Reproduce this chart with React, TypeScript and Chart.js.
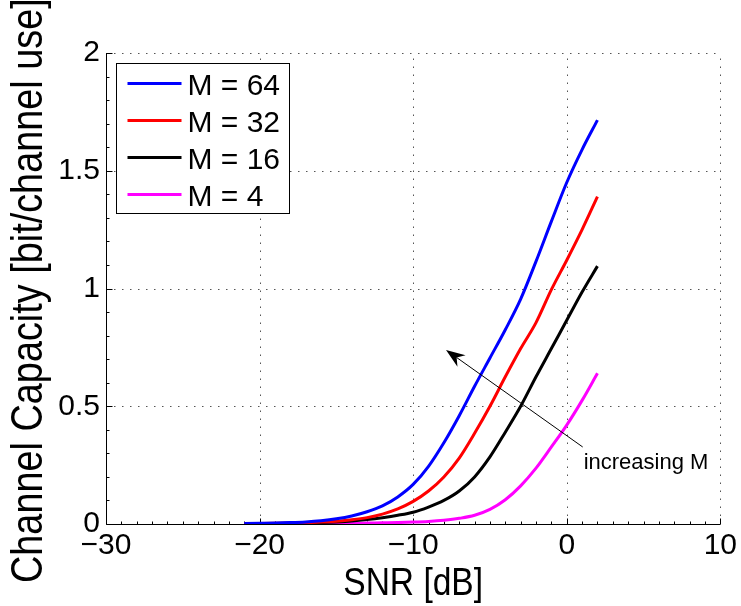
import React, { useEffect, useRef } from "react";
import { Chart, registerables } from "chart.js";

Chart.register(...registerables);

// ---- data ----
const snrDb = [-21, -20, -19, -18, -17, -16, -15, -14, -13, -12, -11, -10, -9, -8, -7, -6, -5, -4, -3, -2, -1, 0, 1, 2];
const capM64 = [0.002, 0.003, 0.004, 0.006, 0.009, 0.014, 0.022, 0.034, 0.052, 0.077, 0.115, 0.168, 0.245, 0.345, 0.46, 0.585, 0.705, 0.825, 0.955, 1.115, 1.285, 1.45, 1.59, 1.715];
const capM32 = [0.001, 0.002, 0.003, 0.004, 0.006, 0.008, 0.012, 0.018, 0.027, 0.042, 0.064, 0.096, 0.14, 0.2, 0.28, 0.385, 0.5, 0.625, 0.745, 0.855, 0.995, 1.12, 1.25, 1.39];
const capM16 = [0.001, 0.001, 0.002, 0.003, 0.004, 0.006, 0.009, 0.013, 0.019, 0.027, 0.037, 0.05, 0.072, 0.1, 0.14, 0.2, 0.285, 0.39, 0.5, 0.625, 0.745, 0.865, 0.985, 1.095];
const capM4 = [0, 0.001, 0.001, 0.001, 0.002, 0.002, 0.003, 0.003, 0.004, 0.005, 0.006, 0.008, 0.011, 0.016, 0.024, 0.037, 0.062, 0.103, 0.162, 0.237, 0.327, 0.42, 0.525, 0.64];
const seriesLabels = ["M = 64", "M = 32", "M = 16", "M = 4"];
const seriesColors = ["#0000ff", "#ff0000", "#000000", "#ff00ff"];
const xMin = -30;
const xMax = 10;
const xStep = 10;
const yMin = 0;
const yMax = 2;
const yStep = 0.5;
const xMinorStep = 1;
const yMinorStep = 0.1;
const xTitle = "SNR [dB]";
const yTitle = "Channel Capacity [bit/channel use]";
const annotationText = "increasing M";
const arrowTail = { x: 1.04, y: 0.327 };
const arrowHead = { x: -7.86, y: 0.739 };
const annotationAnchor = { x: 1.1, y: 0.234 };

const FONT = '"Liberation Sans", Arial, Helvetica, sans-serif';

function drawCondensed(ctx: CanvasRenderingContext2D, text: string, size: number, sx: number, align: CanvasTextAlign) {
  ctx.save();
  ctx.scale(sx, 1);
  ctx.font = `${size}px ${FONT}`;
  ctx.textAlign = align;
  ctx.textBaseline = "alphabetic";
  ctx.fillStyle = "#000";
  ctx.fillText(text, 0, 0);
  ctx.restore();
}

const matlabAxesPlugin = {
  id: "matlabAxes",
  beforeDatasetsDraw(chart: any) {
    const { ctx, chartArea: a, scales } = chart;
    const xs = scales.x;
    const ys = scales.y;
    ctx.save();
    // dotted grid
    ctx.strokeStyle = "#555";
    ctx.lineWidth = 1;
    ctx.setLineDash([1.5, 6.5]);
    for (let v = xMin + xStep; v <= xMax + 1e-9; v += xStep) {
      const px = Math.round(xs.getPixelForValue(v)) + 0.5;
      ctx.beginPath();
      ctx.moveTo(px, a.bottom);
      ctx.lineTo(px, a.top);
      ctx.stroke();
    }
    for (let v = yMin + yStep; v <= yMax + 1e-9; v += yStep) {
      const py = Math.round(ys.getPixelForValue(v)) + 0.5;
      ctx.beginPath();
      ctx.moveTo(a.left, py);
      ctx.lineTo(a.right, py);
      ctx.stroke();
    }
    ctx.setLineDash([]);
    // axis lines
    ctx.strokeStyle = "#000";
    const left = Math.round(a.left) + 0.5;
    const bottom = Math.round(a.bottom) + 0.5;
    ctx.beginPath();
    ctx.moveTo(left, a.top);
    ctx.lineTo(left, bottom);
    ctx.lineTo(a.right, bottom);
    ctx.stroke();
    // inward ticks
    ctx.beginPath();
    const nx = Math.round((xMax - xMin) / xMinorStep);
    for (let i = 0; i <= nx; i++) {
      const v = xMin + i * xMinorStep;
      const major = Math.abs(((v - xMin) / xStep) - Math.round((v - xMin) / xStep)) < 1e-6;
      const px = Math.round(xs.getPixelForValue(v)) + 0.5;
      ctx.moveTo(px, bottom);
      ctx.lineTo(px, bottom - (major ? 6 : 3));
    }
    const ny = Math.round((yMax - yMin) / yMinorStep);
    for (let i = 0; i <= ny; i++) {
      const v = yMin + i * yMinorStep;
      const major = Math.abs(((v - yMin) / yStep) - Math.round((v - yMin) / yStep)) < 1e-6;
      const py = Math.round(ys.getPixelForValue(v)) + 0.5;
      ctx.moveTo(left, py);
      ctx.lineTo(left + (major ? 6 : 3), py);
    }
    ctx.stroke();
    ctx.restore();
  },
  afterDraw(chart: any) {
    const { ctx, chartArea: a, scales } = chart;
    const xs = scales.x;
    const ys = scales.y;
    ctx.save();
    // axis titles
    ctx.save();
    ctx.translate((a.left + a.right) / 2, a.bottom + 71);
    drawCondensed(ctx, xTitle, 39, 0.86, "center");
    ctx.restore();
    ctx.save();
    ctx.translate(42, a.bottom + 59);
    ctx.rotate(-Math.PI / 2);
    drawCondensed(ctx, yTitle, 44, 0.86, "left");
    ctx.restore();

    // arrow annotation
    const tx = xs.getPixelForValue(arrowTail.x);
    const ty = ys.getPixelForValue(arrowTail.y);
    const hx = xs.getPixelForValue(arrowHead.x);
    const hy = ys.getPixelForValue(arrowHead.y);
    const dx = hx - tx;
    const dy = hy - ty;
    const len = Math.hypot(dx, dy);
    const ux = dx / len;
    const uy = dy / len;
    const pxn = -uy;
    const pyn = ux;
    const headLen = 19;
    const headW = 7;
    const notch = 13;
    ctx.strokeStyle = "#000";
    ctx.lineWidth = 1;
    ctx.beginPath();
    ctx.moveTo(tx, ty);
    ctx.lineTo(hx - ux * notch, hy - uy * notch);
    ctx.stroke();
    ctx.fillStyle = "#000";
    ctx.beginPath();
    ctx.moveTo(hx, hy);
    ctx.lineTo(hx - ux * headLen + pxn * headW, hy - uy * headLen + pyn * headW);
    ctx.lineTo(hx - ux * notch, hy - uy * notch);
    ctx.lineTo(hx - ux * headLen - pxn * headW, hy - uy * headLen - pyn * headW);
    ctx.closePath();
    ctx.fill();

    ctx.font = `22px ${FONT}`;
    ctx.textAlign = "left";
    ctx.textBaseline = "alphabetic";
    ctx.fillText(annotationText, xs.getPixelForValue(annotationAnchor.x), ys.getPixelForValue(annotationAnchor.y));

    // legend
    const bx = Math.round(a.left) + 10.5;
    const by = Math.round(a.top) + 10.5;
    const bw = 173;
    const bh = 150;
    ctx.fillStyle = "#fff";
    ctx.fillRect(bx, by, bw, bh);
    ctx.strokeStyle = "#000";
    ctx.lineWidth = 1;
    ctx.strokeRect(bx, by, bw, bh);
    ctx.font = `30px ${FONT}`;
    chart.data.datasets.forEach((ds: any, i: number) => {
      const ly = by + 20 + i * 37;
      ctx.strokeStyle = ds.borderColor;
      ctx.lineWidth = 3;
      ctx.beginPath();
      ctx.moveTo(bx + 11, ly);
      ctx.lineTo(bx + 65, ly);
      ctx.stroke();
      ctx.fillStyle = "#000";
      ctx.fillText(ds.label, bx + 71, ly + 11);
    });
    ctx.restore();
  },
};

export default function App() {
  const canvasRef = useRef<HTMLCanvasElement | null>(null);

  useEffect(() => {
    const canvas = canvasRef.current;
    if (!canvas) return;
    const series = [capM64, capM32, capM16, capM4];
    const chart = new Chart(canvas, {
      type: "line",
      data: {
        datasets: series.map((vals, i) => ({
          label: seriesLabels[i],
          data: snrDb.map((x, j) => ({ x, y: vals[j] })),
          borderColor: seriesColors[i],
          backgroundColor: seriesColors[i],
          borderWidth: 3,
          pointRadius: 0,
          fill: false,
          cubicInterpolationMode: "monotone" as const,
        })),
      },
      options: {
        responsive: false,
        animation: false,
        devicePixelRatio: 1,
        layout: { padding: { top: 53, right: 19, left: 0, bottom: 0 } },
        plugins: {
          legend: { display: false },
          tooltip: { enabled: false },
        },
        scales: {
          x: {
            type: "linear",
            min: xMin,
            max: xMax,
            grid: { display: false, drawTicks: false },
            border: { display: false },
            ticks: {
              stepSize: xStep,
              padding: 4,
              color: "#000",
              font: { family: FONT, size: 30 },
              maxRotation: 0,
              callback: (v: any) => String(v).replace("-", "\u2212"),
            },
            afterFit: (s: any) => {
              s.height = 82;
            },
          },
          y: {
            type: "linear",
            min: yMin,
            max: yMax,
            grid: { display: false, drawTicks: false },
            border: { display: false },
            ticks: {
              stepSize: yStep,
              padding: 6,
              color: "#000",
              font: { family: FONT, size: 30 },
              callback: (v: any) => String(v),
            },
            afterFit: (s: any) => {
              s.width = 106;
            },
          },
        },
      },
      plugins: [matlabAxesPlugin],
    });
    return () => chart.destroy();
  }, []);

  return (
    <div style={{ position: "absolute", left: 0, top: 0, width: 741, height: 606, background: "#fff" }}>
      <canvas ref={canvasRef} width={741} height={606} style={{ display: "block" }} />
    </div>
  );
}
